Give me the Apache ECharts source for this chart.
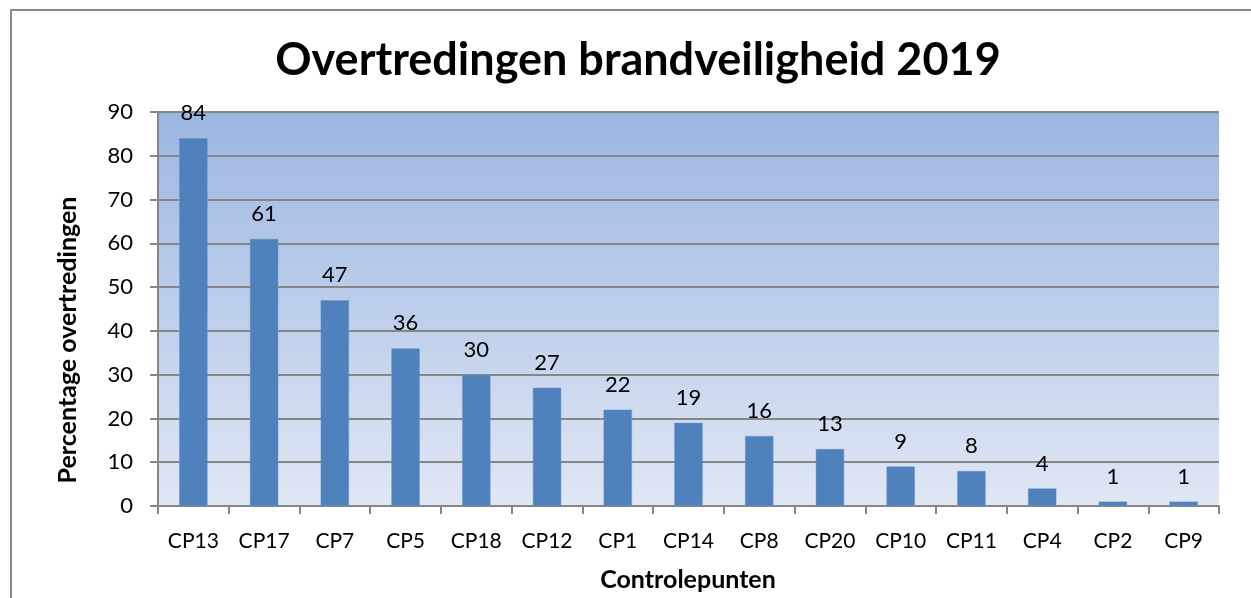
<!DOCTYPE html>
<html>
<head>
<meta charset="utf-8">
<script src="https://cdn.jsdelivr.net/npm/echarts@6/dist/echarts.min.js"></script>
<style>
html,body{margin:0;padding:0;background:#fff;}
#chart{width:1251px;height:598px;}
</style>
</head>
<body>
<div id="chart"></div>
<script>
const categories = ['CP13','CP17','CP7','CP5','CP18','CP12','CP1','CP14','CP8','CP20','CP10','CP11','CP4','CP2','CP9'];
const values = [84,61,47,36,30,27,22,19,16,13,9,8,4,1,1];
const titleText = 'Overtredingen brandveiligheid 2019';
const yAxisTitle = 'Percentage overtredingen';
const xAxisTitle = 'Controlepunten';

const FONT = 'Lato, "Open Sans", sans-serif';
const chart = echarts.init(document.getElementById('chart'), null, {renderer:'canvas'});
chart.setOption({
  animation: false,
  backgroundColor: '#fff',
  title: {
    text: titleText,
    left: 633, top: 33, textAlign: 'center',
    textStyle: {fontFamily: FONT, fontSize: 45, fontWeight: 'bold', color: '#000'}
  },
  graphic: [
    {type:'rect', shape:{x:11, y:10, width:1260, height:620}, style:{fill:'none', stroke:'#888', lineWidth:2}, silent:true, z:-10},
    {type:'text', x:68, y:340, rotation: Math.PI/2,
     style:{text: yAxisTitle, font:'bold 25px ' + FONT, fill:'#000', align:'center', verticalAlign:'middle'}},
    {type:'text', x:688, y:580,
     style:{text: xAxisTitle, font:'bold 25px ' + FONT, fill:'#000', align:'center', verticalAlign:'middle'}}
  ],
  grid: {
    left: 158, right: 32, top: 112, bottom: 92,
    show: true, borderWidth: 0,
    backgroundColor: {type:'linear', x:0, y:0, x2:0, y2:1,
      colorStops:[{offset:0, color:'#9bb6e2'},{offset:1, color:'#e0e7f4'}]}
  },
  xAxis: {
    type: 'category', data: categories, boundaryGap: true,
    axisLine: {show:true, lineStyle:{color:'#868686', width:2}},
    axisTick: {show:true, length:8, alignWithLabel:false, lineStyle:{color:'#868686', width:2}},
    axisLabel: {fontFamily: FONT, fontSize: 21, color:'#000', margin: 25, interval: 0}
  },
  yAxis: {
    type: 'value', min: 0, max: 90, interval: 10,
    axisLine: {show:true, lineStyle:{color:'#868686', width:2}},
    axisTick: {show:true, length:8, lineStyle:{color:'#868686', width:2}},
    axisLabel: {fontFamily: FONT, fontSize: 22, color:'#000', margin: 25},
    splitLine: {show:true, lineStyle:{color:'#868686', width:2}}
  },
  series: [{
    type: 'bar', data: values, barWidth: '40%',
    itemStyle: {color:'#4f81bd', borderColor:'#6b95c8', borderWidth:0.5},
    label: {show:true, position:'top', distance:14, fontFamily: FONT, fontSize: 22, color:'#000'}
  }]
});
</script>
</body>
</html>
